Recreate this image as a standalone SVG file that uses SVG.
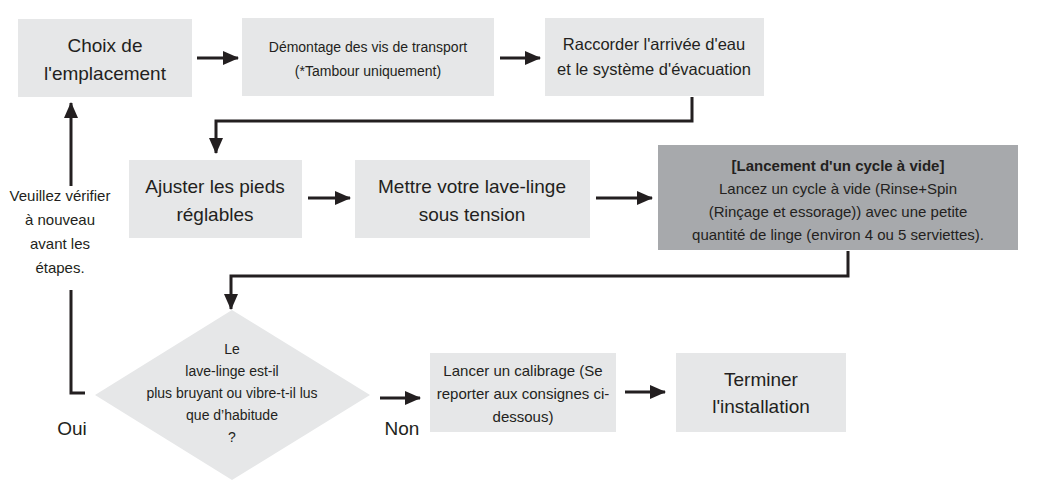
<svg xmlns="http://www.w3.org/2000/svg" width="1040" height="487" viewBox="0 0 1040 487">
<defs><marker id="b" viewBox="0 0 16 14" markerWidth="16" markerHeight="14" refX="15" refY="7" orient="auto" markerUnits="userSpaceOnUse"><path d="M0,0 L16,7 L0,14 z" fill="#231f20"/></marker></defs>
<style>
.box{fill:#e6e7e8}
text{font-family:"Liberation Sans",Arial,sans-serif;fill:#231f20;text-anchor:middle}
.l{font-size:19px}.m{font-size:15px}.s{font-size:14px}.r{font-size:16.5px}
.c{fill:none;stroke:#231f20;stroke-width:3;marker-end:url(#b)}
.n{fill:none;stroke:#231f20;stroke-width:3}
</style>
<rect width="1040" height="487" fill="#fff"/>
<g id="n1"><rect class="box" x="18" y="19" width="174" height="78"/><text class="l" x="105" y="52">Choix de</text><text class="l" x="105" y="80">l'emplacement</text></g>
<g id="n2"><rect class="box" x="242" y="18" width="252" height="78"/><text class="s" x="368" y="52">Démontage des vis de transport</text><text class="s" x="368" y="76">(*Tambour uniquement)</text></g>
<g id="n3"><rect class="box" x="545" y="18" width="219" height="78"/><text class="r" x="654" y="50">Raccorder l'arrivée d'eau</text><text class="r" x="654" y="75">et le système d'évacuation</text></g>
<g id="n4"><rect class="box" x="129" y="160" width="173" height="78"/><text class="l" x="215" y="193">Ajuster les pieds</text><text class="l" x="215" y="221">réglables</text></g>
<g id="n5"><rect class="box" x="355" y="160" width="235" height="78"/><text class="l" x="472" y="193">Mettre votre lave-linge</text><text class="l" x="472" y="221">sous tension</text></g>
<g id="n6"><rect x="658" y="145" width="360" height="105" fill="#a7a9ac"/><text class="m" x="838" y="171" font-weight="bold">[Lancement d'un cycle à vide]</text><text class="m" x="838" y="194">Lancez un cycle à vide (Rinse+Spin</text><text class="m" x="838" y="217">(Rinçage et essorage)) avec une petite</text><text class="m" x="838" y="240">quantité de linge (environ 4 ou 5 serviettes).</text></g>
<g id="n7"><polygon class="box" points="232,310 370,395 232,480 95,395"/><text class="s" x="232" y="354">Le</text><text class="s" x="232" y="376">lave-linge est-il</text><text class="s" x="232" y="398">plus bruyant ou vibre-t-il lus</text><text class="s" x="232" y="420">que d’habitude</text><text class="s" x="232" y="442">?</text></g>
<g id="n8"><rect class="box" x="430" y="353" width="186" height="79"/><text class="m" x="523" y="376">Lancer un calibrage (Se</text><text class="m" x="523" y="399">reporter aux consignes ci-</text><text class="m" x="523" y="422">dessous)</text></g>
<g id="n9"><rect class="box" x="676" y="353" width="170" height="79"/><text class="l" x="761" y="386">Terminer</text><text class="l" x="761" y="413">l'installation</text></g>
<g id="labels"><text class="m" x="60" y="201">Veuillez vérifier</text><text class="m" x="60" y="225">à nouveau</text><text class="m" x="60" y="249">avant les</text><text class="m" x="60" y="273">étapes.</text><text class="l" x="72" y="435">Oui</text><text class="l" x="402" y="435">Non</text></g>
<g id="connectors">
<path class="c" d="M197,58 H238"/>
<path class="c" d="M500,58 H540"/>
<path class="c" d="M692,97 V121 H216 V153"/>
<path class="c" d="M308,198 H350"/>
<path class="c" d="M596,198 H652"/>
<path class="c" d="M848,251 V276 H231 V309"/>
<path class="c" d="M380,398 H420"/>
<path class="c" d="M625,392 H665"/>
<path class="n" d="M85,393 H71 V290"/>
<path class="c" d="M71,186 V103"/>
</g>
</svg>
